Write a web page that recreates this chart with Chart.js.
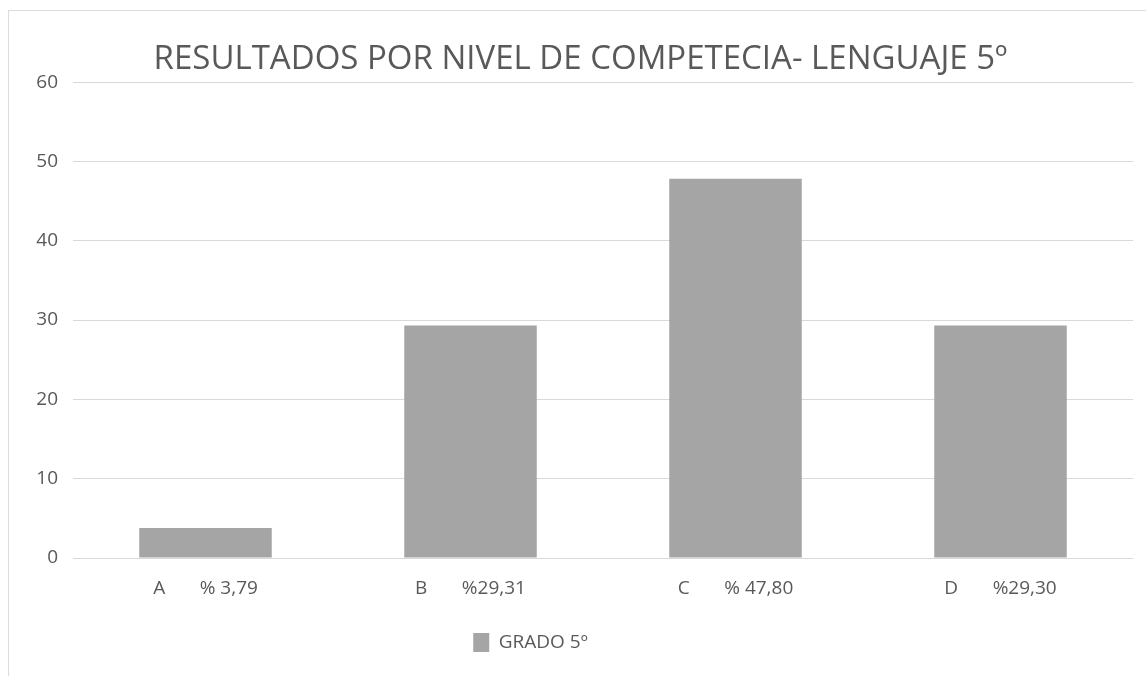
<!DOCTYPE html>
<html>
<head>
<meta charset="utf-8">
<script src="https://cdn.jsdelivr.net/npm/chart.js@4"></script>
<style>
  html, body { margin: 0; padding: 0; background: #fff; overflow: hidden; }
  #frame {
    position: absolute; left: 8px; top: 10px;
    width: 1160px; height: 700px;
    border: 1px solid #dcdcdc;
  }
  #wrap { position: absolute; left: 10px; top: 11px; width: 1142px; height: 665px; }
</style>
</head>
<body>
<div id="frame"></div>
<div id="wrap"><canvas id="chart"></canvas></div>
<script>
// Chart data
const categories = ['A       % 3,79', 'B       %29,31', 'C       % 47,80', 'D       %29,30'];
const grado5 = [3.79, 29.31, 47.80, 29.30];
const seriesName = 'GRADO 5º';
const chartTitle = 'RESULTADOS POR NIVEL DE COMPETECIA- LENGUAJE 5º';
const yMax = 60;
const yStep = 10;

const textColor = '#595959';
const gridColor = '#d9d9d9';
const fontFamily = 'Open Sans';

// nudge title and legend sideways, like the original
const boxShift = {
    id: 'boxShift',
    afterLayout(chart) {
        const t = chart.titleBlock;
        if (t) { t.left += 9; t.right += 9; }
        const lg = chart.legend;
        if (lg) { lg.left -= 41; lg.right -= 41; }
    }
};

new Chart(document.getElementById('chart'), {
    type: 'bar',
    data: {
        labels: categories,
        datasets: [{
            label: seriesName,
            data: grado5,
            backgroundColor: '#a5a5a5',
            borderWidth: 0,
            barPercentage: 1,
            categoryPercentage: 0.5
        }]
    },
    options: {
        responsive: true,
        maintainAspectRatio: false,
        animation: false,
        layout: { padding: { left: 0, right: 19, top: 0, bottom: 14 } },
        plugins: {
            title: {
                display: true,
                text: chartTitle,
                color: textColor,
                font: { family: fontFamily, size: 33, weight: 'normal' },
                padding: { top: 29, bottom: 2.5 }
            },
            legend: {
                display: true,
                position: 'bottom',
                labels: {
                    color: textColor,
                    font: { family: fontFamily, size: 19 },
                    boxWidth: 16,
                    boxHeight: 19,
                    padding: 10
                }
            },
            tooltip: { enabled: false }
        },
        scales: {
            x: {
                grid: { display: false, drawTicks: false },
                border: { display: false },
                ticks: {
                    color: textColor,
                    font: { family: fontFamily, size: 19 },
                    padding: 19,
                    maxRotation: 0
                },
                afterFit(scale) { scale.height = 65; }
            },
            y: {
                min: 0,
                max: yMax,
                grid: { color: gridColor, lineWidth: 1, drawTicks: false },
                border: { display: false },
                ticks: {
                    stepSize: yStep,
                    color: textColor,
                    font: { family: fontFamily, size: 19 },
                    padding: 15
                },
                afterFit(scale) { scale.width = 63; }
            }
        }
    },
    plugins: [boxShift]
});
</script>
</body>
</html>
